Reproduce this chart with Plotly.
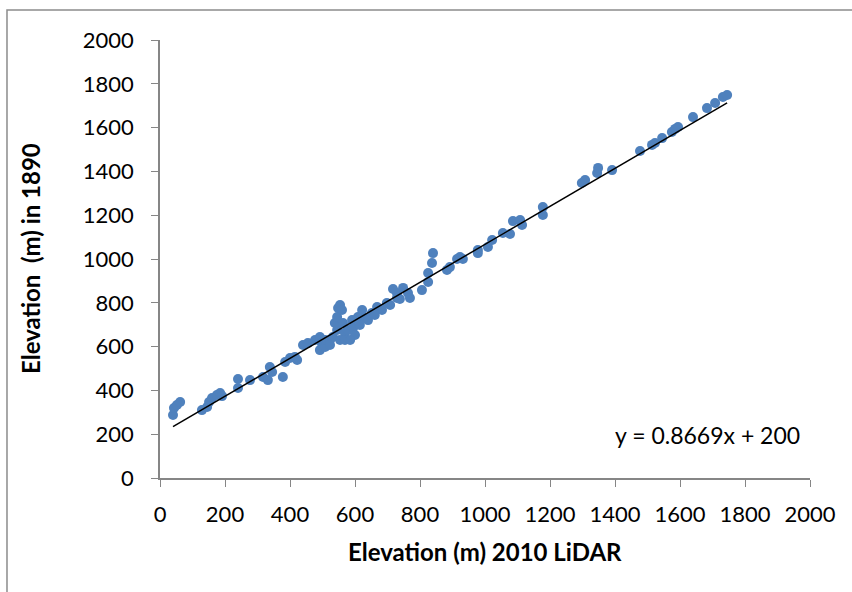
import plotly.graph_objects as go

# Elevation (m) from 2010 LiDAR and the corresponding 1890 elevation (m)
lidar_2010 = [40, 43, 52, 62, 129, 145, 151, 160, 175, 185, 191, 240, 240, 277, 317, 332,
              338, 345, 378, 385, 400, 415, 422, 440, 455, 477, 492, 498, 492, 508, 508,
              523, 532, 545, 538, 545, 548, 554, 560, 563, 569, 578, 591, 594, 609, 622,
              631, 652, 668, 683, 698, 729, 729, 717, 738, 748, 763, 769, 806, 825, 825,
              837, 840, 883, 892, 914, 923, 932, 978, 978, 1009, 1022, 1055, 1077, 1086,
              1108, 1114, 1178, 1178, 1298, 1308, 1345, 1348, 1391, 1477, 1514, 1523,
              1545, 1575, 1585, 1594, 1640, 1683, 1708, 1732, 1745,
              523, 554, 569, 600, 615, 640, 661, 708, 585]
elev_1890 = [288, 320, 333, 347, 310, 324, 347, 365, 379, 388, 374, 452, 411, 447, 461, 447,
             507, 484, 461, 530, 548, 553, 539, 607, 616, 630, 644, 616, 584, 598, 630,
             630, 644, 676, 708, 735, 776, 790, 767, 708, 662, 676, 721, 685, 735, 767,
             731, 753, 781, 767, 799, 822, 845, 863, 817, 868, 845, 822, 858, 895, 936,
             982, 1027, 950, 963, 1000, 1009, 1000, 1041, 1027, 1055, 1087, 1119, 1114, 1173,
             1178, 1155, 1237, 1201, 1347, 1361, 1393, 1416, 1406, 1493, 1521, 1530,
             1552, 1580, 1594, 1603, 1648, 1689, 1712, 1740, 1749,
             607, 630, 630, 653, 699, 721, 744, 790, 630]

slope = 0.8669
intercept = 200
tick_vals = [0, 200, 400, 600, 800, 1000, 1200, 1400, 1600, 1800, 2000]

x_min, x_max = min(lidar_2010), max(lidar_2010)
trend_x = [x_min, x_max]
trend_y = [slope * v + intercept for v in trend_x]

FONT = "Lato"
AXIS_COLOR = "#868686"

fig = go.Figure()
fig.add_trace(go.Scatter(x=lidar_2010, y=elev_1890, mode="markers",
                         marker=dict(color="#4F81BD", size=10, line=dict(width=0)),
                         showlegend=False))
fig.add_trace(go.Scatter(x=trend_x, y=trend_y, mode="lines",
                         line=dict(color="black", width=1.5), showlegend=False))

axis_common = dict(range=[0, 2000], tickvals=tick_vals, showgrid=False, zeroline=False,
                   showline=True, linecolor=AXIS_COLOR, linewidth=1.5,
                   ticks="outside", ticklen=7, tickcolor=AXIS_COLOR, tickwidth=1.2,
                   tickfont=dict(family=FONT, size=22, color="black"))
fig.update_xaxes(**axis_common, ticklabelstandoff=9)
fig.update_yaxes(**axis_common, ticklabelstandoff=13)

fig.update_layout(
    width=852, height=592,
    margin=dict(l=160, r=42, t=40, b=114),
    paper_bgcolor="white", plot_bgcolor="white",
    font=dict(family=FONT, color="black"),
    shapes=[dict(type="rect", xref="paper", yref="paper",
                 x0=-0.2354, y0=-1.0, x1=2.0, y1=1.0685,
                 line=dict(color="#8c8c8c", width=1.5), fillcolor="rgba(0,0,0,0)",
                 layer="below")],
    annotations=[
        dict(text="y = 0.8669x + 200", xref="paper", yref="paper", x=0.697, y=0.098,
             xanchor="left", yanchor="middle", showarrow=False,
             font=dict(family=FONT, size=23, color="black")),
        dict(text="<b>Elevation (m) 2010 LiDAR</b>", xref="paper", yref="paper",
             x=0.5, y=-0.1667, xanchor="center", yanchor="middle", showarrow=False,
             font=dict(family=FONT, size=24, color="black")),
        dict(text="<b>Elevation  (m) in 1890</b>", xref="paper", yref="paper",
             x=-0.2, y=0.5, xanchor="center", yanchor="middle", showarrow=False,
             textangle=-90, font=dict(family=FONT, size=24, color="black")),
    ],
)

fig.write_html("out.html")
